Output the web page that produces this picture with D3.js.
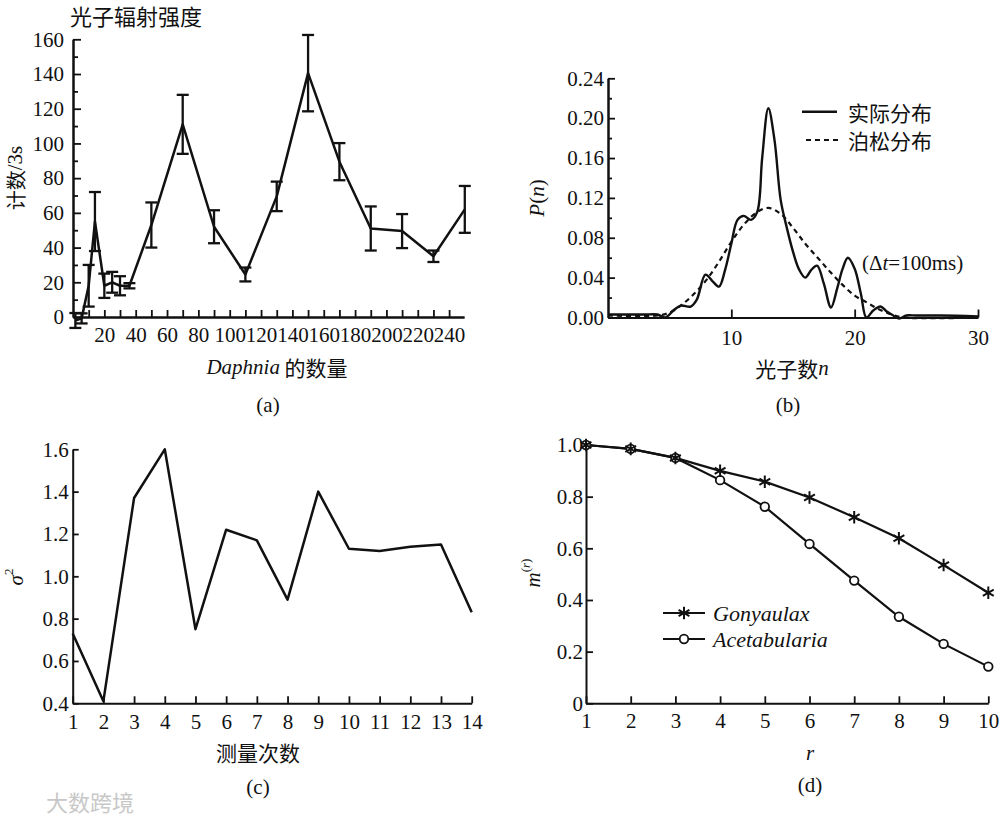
<!DOCTYPE html>
<html>
<head>
<meta charset="utf-8">
<script src="https://cdn.jsdelivr.net/npm/d3@7"></script>
<style>
body { margin: 0; background: #fff; }
</style>
</head>
<body>
<div id="chart"></div>
<script>

// (a) photon emission vs. number of Daphnia
var daphniaCount = [1.5, 5.5, 10, 14, 20, 25, 30, 36, 50, 70, 90, 110, 130, 150, 170, 190, 210, 230, 250];
var photonCounts = [-2, -0.8, 18, 55, 18, 20, 18, 18, 53, 111, 52, 24.5, 69.5, 140.5, 89.5, 51, 49.5, 35, 62];
var countErrors  = [4.3, 2.9, 12, 17, 7, 6, 5.5, 1.5, 13, 17, 9.5, 4, 8.5, 22, 10.7, 12.7, 9.8, 3.3, 13.5];
var countTicks   = [0, 20, 40, 60, 80, 100, 120, 140, 160];
var daphniaTicks = [20, 40, 60, 80, 100, 120, 140, 160, 180, 200, 220, 240];

// (b) photon count distribution
var nActual = [0, 1, 2, 3, 4, 4.65, 5.3, 5.9, 6.7, 7.2, 7.9, 8.5, 9.0, 9.5, 10.0, 10.5, 11.0, 11.6, 12.1, 12.5, 13.0, 13.5, 14.0, 14.5, 15.0, 15.5, 16.0, 16.5, 16.95, 17.5, 18.08, 18.6, 19.0, 19.45, 20.0, 20.5, 20.95, 21.5, 22.1, 22.6, 23.0, 23.6, 24.2, 25, 27, 30];
var pActual = [0.003, 0.003, 0.003, 0.003, 0.003, 0.000, 0.007, 0.012, 0.011, 0.018, 0.043, 0.036, 0.031, 0.048, 0.074, 0.098, 0.102, 0.098, 0.106, 0.160, 0.210, 0.178, 0.118, 0.090, 0.066, 0.048, 0.040, 0.048, 0.052, 0.034, 0.010, 0.030, 0.048, 0.060, 0.049, 0.024, 0.000, 0.007, 0.011, 0.006, 0.003, -0.001, 0.002, 0.002, 0.002, 0.001];
var nPoisson = [0, 4, 5, 6, 7, 8, 9, 10, 11, 12, 13, 14, 15, 16, 17, 18, 19, 20, 21, 22, 23, 24, 30];
var pPoisson = [0.002, 0.002, 0.005, 0.013, 0.024, 0.038, 0.056, 0.076, 0.093, 0.105, 0.110, 0.104, 0.090, 0.074, 0.060, 0.046, 0.033, 0.022, 0.015, 0.008, 0.003, 0.000, 0.000];
var pTicks = [0, 0.04, 0.08, 0.12, 0.16, 0.20, 0.24];
var nTicks = [10, 20, 30];

// (c) variance per measurement
var measureNo = [1, 2, 3, 4, 5, 6, 7, 8, 9, 10, 11, 12, 13, 14];
var sigma2 = [0.73, 0.41, 1.37, 1.60, 0.75, 1.22, 1.17, 0.89, 1.40, 1.13, 1.12, 1.14, 1.15, 0.83];
var sigmaTicks = [0.4, 0.6, 0.8, 1.0, 1.2, 1.4, 1.6];

// (d) m^(r)
var rValues = [1, 2, 3, 4, 5, 6, 7, 8, 9, 10];
var gonyaulax = [1.0, 0.985, 0.95, 0.90, 0.858, 0.797, 0.72, 0.639, 0.535, 0.428];
var acetabularia = [1.0, 0.985, 0.95, 0.864, 0.761, 0.617, 0.475, 0.335, 0.23, 0.142];
var mTicks = [0, 0.2, 0.4, 0.6, 0.8, 1.0];

var serif = "'Liberation Serif', 'DejaVu Serif', serif";
var cjk = "'Noto Sans CJK SC', 'Noto Sans CJK JP', sans-serif";
var ink = "#111";

var svg = d3.select("#chart").append("svg")
    .attr("width", 1000)
    .attr("height", 819)
    .style("background", "#fff");

function styleAxis(sel) {
    sel.attr("font-family", serif).attr("font-size", 21);
    sel.select(".domain").attr("stroke", ink).attr("stroke-width", 2);
    sel.selectAll(".tick line").attr("stroke", ink).attr("stroke-width", 1.8);
    sel.selectAll(".tick text").attr("fill", ink);
}

function label(x, y, txt, font, size, rotate) {
    var t = svg.append("text")
        .attr("text-anchor", "middle")
        .attr("dominant-baseline", "central")
        .attr("font-family", font)
        .attr("font-size", size)
        .attr("fill", ink);
    if (rotate) t.attr("transform", "translate(" + x + "," + y + ") rotate(-90)");
    else t.attr("x", x).attr("y", y);
    if (txt) t.text(txt);
    return t;
}

// ---------- (a) ----------
var xA = d3.scaleLinear().domain([0, 249.5]).range([73, 464]);
var yA = d3.scaleLinear().domain([0, 160]).range([317, 39.3]);

svg.append("g").attr("transform", "translate(0,317)")
    .call(d3.axisBottom(xA).tickValues(d3.range(10, 250, 20)).tickSize(-7).tickSizeOuter(0).tickFormat(""))
    .call(styleAxis);
svg.append("g").attr("transform", "translate(0,317)")
    .call(d3.axisBottom(xA).tickValues(daphniaTicks).tickSize(-7).tickSizeOuter(0).tickPadding(10))
    .call(styleAxis);
svg.append("g").attr("transform", "translate(73,0)")
    .call(d3.axisLeft(yA).tickValues(d3.range(10, 160, 20)).tickSize(-5).tickSizeOuter(0).tickFormat(""))
    .call(styleAxis);
svg.append("g").attr("transform", "translate(73,0)")
    .call(d3.axisLeft(yA).tickValues(countTicks).tickSize(-8).tickSizeOuter(0).tickPadding(9))
    .call(styleAxis);

var aData = daphniaCount.map(function(d, i) {
    return { x: d, y: photonCounts[i], e: countErrors[i] };
});

svg.append("path")
    .datum(aData)
    .attr("fill", "none")
    .attr("stroke", ink)
    .attr("stroke-width", 2.5)
    .attr("stroke-linejoin", "round")
    .attr("d", d3.line().x(function(d) { return xA(d.x); }).y(function(d) { return yA(d.y); }));

var bars = svg.append("g").selectAll("g").data(aData).enter().append("g")
    .attr("stroke", ink).attr("stroke-width", 2.3);
bars.append("line")
    .attr("x1", function(d) { return xA(d.x); }).attr("x2", function(d) { return xA(d.x); })
    .attr("y1", function(d) { return yA(d.y - d.e); }).attr("y2", function(d) { return yA(d.y + d.e); });
bars.append("line")
    .attr("x1", function(d) { return xA(d.x) - 6; }).attr("x2", function(d) { return xA(d.x) + 6; })
    .attr("y1", function(d) { return yA(d.y + d.e); }).attr("y2", function(d) { return yA(d.y + d.e); });
bars.append("line")
    .attr("x1", function(d) { return xA(d.x) - 6; }).attr("x2", function(d) { return xA(d.x) + 6; })
    .attr("y1", function(d) { return yA(d.y - d.e); }).attr("y2", function(d) { return yA(d.y - d.e); });

svg.append("text").attr("x", 70).attr("y", 15).attr("dominant-baseline", "central")
    .attr("font-family", cjk).attr("font-size", 22).attr("fill", ink).text("光子辐射强度");

var ya = label(15, 178, null, cjk, 20, true);
ya.append("tspan").text("计数");
ya.append("tspan").attr("font-family", serif).attr("font-size", 21).text("/3s");

var xa = label(277, 367, null, serif, 21, false);
xa.append("tspan").attr("font-style", "italic").text("Daphnia");
xa.append("tspan").attr("font-family", cjk).text(" 的数量");

label(268, 405, "(a)", serif, 21, false);

// ---------- (b) ----------
var xB = d3.scaleLinear().domain([0, 30]).range([608, 978]);
var yB = d3.scaleLinear().domain([0, 0.24]).range([317.5, 78.3]);

svg.append("g").attr("transform", "translate(0,317.5)")
    .call(d3.axisBottom(xB).tickValues(nTicks).tickSize(-8).tickSizeOuter(0).tickPadding(13))
    .call(styleAxis);
svg.append("g").attr("transform", "translate(608,0)")
    .call(d3.axisLeft(yB).tickValues(d3.range(0.02, 0.24, 0.04)).tickSize(-4).tickSizeOuter(0).tickFormat(""))
    .call(styleAxis);
svg.append("g").attr("transform", "translate(608,0)")
    .call(d3.axisLeft(yB).tickValues(pTicks).tickSize(-7).tickSizeOuter(0).tickPadding(4).tickFormat(d3.format(".2f")))
    .call(styleAxis);

var lineB = d3.line()
    .x(function(d) { return xB(d[0]); })
    .y(function(d) { return yB(d[1]); })
    .curve(d3.curveCatmullRom.alpha(0.5));

svg.append("path")
    .datum(nPoisson.map(function(d, i) { return [d, pPoisson[i]]; }))
    .attr("fill", "none").attr("stroke", ink).attr("stroke-width", 2.2)
    .attr("stroke-dasharray", "5,4")
    .attr("d", lineB);
svg.append("path")
    .datum(nActual.map(function(d, i) { return [d, pActual[i]]; }))
    .attr("fill", "none").attr("stroke", ink).attr("stroke-width", 2.4)
    .attr("d", lineB);

svg.append("line").attr("x1", 802).attr("x2", 837).attr("y1", 111.7).attr("y2", 111.7)
    .attr("stroke", ink).attr("stroke-width", 2.4);
svg.append("line").attr("x1", 806).attr("x2", 842).attr("y1", 140).attr("y2", 140)
    .attr("stroke", ink).attr("stroke-width", 2.2).attr("stroke-dasharray", "5,4");
svg.append("text").attr("x", 848).attr("y", 111.7).attr("dominant-baseline", "central")
    .attr("font-family", cjk).attr("font-size", 21).attr("fill", ink).text("实际分布");
svg.append("text").attr("x", 848).attr("y", 140).attr("dominant-baseline", "central")
    .attr("font-family", cjk).attr("font-size", 21).attr("fill", ink).text("泊松分布");

var dt = svg.append("text").attr("x", 862).attr("y", 263).attr("dominant-baseline", "central")
    .attr("font-family", serif).attr("font-size", 21).attr("fill", ink);
dt.append("tspan").text("(Δ");
dt.append("tspan").attr("font-style", "italic").text("t");
dt.append("tspan").text("=100ms)");

var yb = label(537, 198, null, serif, 21, true);
yb.append("tspan").attr("font-style", "italic").text("P");
yb.append("tspan").text("(");
yb.append("tspan").attr("font-style", "italic").text("n");
yb.append("tspan").text(")");

var xb = label(792, 368, null, cjk, 21, false);
xb.append("tspan").text("光子数");
xb.append("tspan").attr("font-family", serif).attr("font-style", "italic").text("n");

label(788, 405, "(b)", serif, 21, false);

// ---------- (c) ----------
var xC = d3.scaleLinear().domain([1, 14]).range([72.7, 471.7]);
var yC = d3.scaleLinear().domain([0.4, 1.6]).range([703.3, 449.3]);

svg.append("g").attr("transform", "translate(0,703.3)")
    .call(d3.axisBottom(xC).tickValues(measureNo).tickSize(-7).tickSizeOuter(0).tickPadding(11))
    .call(styleAxis);
svg.append("g").attr("transform", "translate(72.7,0)")
    .call(d3.axisLeft(yC).tickValues(sigmaTicks).tickSize(-6).tickSizeOuter(0).tickPadding(4).tickFormat(d3.format(".1f")))
    .call(styleAxis);

svg.append("path")
    .datum(measureNo.map(function(d, i) { return [d, sigma2[i]]; }))
    .attr("fill", "none").attr("stroke", ink).attr("stroke-width", 2.5)
    .attr("stroke-linejoin", "round")
    .attr("d", d3.line().x(function(d) { return xC(d[0]); }).y(function(d) { return yC(d[1]); }));

var yc = label(16, 577, null, serif, 21, true);
yc.append("tspan").attr("font-style", "italic").text("σ");
yc.append("tspan").attr("font-size", 13).attr("dy", -8).text("2");

label(258, 752, "测量次数", cjk, 21, false);
label(258, 787, "(c)", serif, 21, false);

// ---------- (d) ----------
var xD = d3.scaleLinear().domain([1, 10]).range([586, 988.3]);
var yD = d3.scaleLinear().domain([0, 1]).range([703.3, 445]);

svg.append("g").attr("transform", "translate(0,703.3)")
    .call(d3.axisBottom(xD).tickValues(rValues).tickSize(-7).tickSizeOuter(0).tickPadding(10))
    .call(styleAxis);
svg.append("g").attr("transform", "translate(586,0)")
    .call(d3.axisLeft(yD).tickValues(mTicks).tickSize(-7).tickSizeOuter(0).tickPadding(3)
        .tickFormat(function(d) { return d === 0 ? "0" : d3.format(".1f")(d); }))
    .call(styleAxis);

var lineD = d3.line().x(function(d) { return xD(d[0]); }).y(function(d) { return yD(d[1]); });
var gData = rValues.map(function(d, i) { return [d, gonyaulax[i]]; });
var aceData = rValues.map(function(d, i) { return [d, acetabularia[i]]; });

svg.append("path").datum(aceData).attr("fill", "none").attr("stroke", ink).attr("stroke-width", 2.2).attr("d", lineD);
svg.append("path").datum(gData).attr("fill", "none").attr("stroke", ink).attr("stroke-width", 2.2).attr("d", lineD);

var star = d3.symbol().type(d3.symbolAsterisk).size(110);

svg.append("g").selectAll("circle").data(aceData).enter().append("circle")
    .attr("cx", function(d) { return xD(d[0]); })
    .attr("cy", function(d) { return yD(d[1]); })
    .attr("r", 4.3)
    .attr("fill", "#fff").attr("stroke", ink).attr("stroke-width", 1.8);
svg.append("g").selectAll("path").data(gData).enter().append("path")
    .attr("transform", function(d) { return "translate(" + xD(d[0]) + "," + yD(d[1]) + ")"; })
    .attr("d", star)
    .attr("fill", "none").attr("stroke", ink).attr("stroke-width", 2);

// legend (d)
svg.append("line").attr("x1", 663).attr("x2", 705).attr("y1", 613).attr("y2", 613).attr("stroke", ink).attr("stroke-width", 2.2);
svg.append("path").attr("transform", "translate(684,613)").attr("d", star)
    .attr("fill", "none").attr("stroke", ink).attr("stroke-width", 2);
svg.append("line").attr("x1", 663).attr("x2", 705).attr("y1", 639).attr("y2", 639).attr("stroke", ink).attr("stroke-width", 2.2);
svg.append("circle").attr("cx", 684).attr("cy", 639).attr("r", 4.3)
    .attr("fill", "#fff").attr("stroke", ink).attr("stroke-width", 1.8);
svg.append("text").attr("x", 713).attr("y", 613).attr("dominant-baseline", "central")
    .attr("font-family", serif).attr("font-style", "italic").attr("font-size", 22).attr("fill", ink).text("Gonyaulax");
svg.append("text").attr("x", 713).attr("y", 639).attr("dominant-baseline", "central")
    .attr("font-family", serif).attr("font-style", "italic").attr("font-size", 22).attr("fill", ink).text("Acetabularia");

var yd = label(533, 573, null, serif, 21, true);
yd.append("tspan").attr("font-style", "italic").text("m");
yd.append("tspan").attr("font-size", 13).attr("dy", -8).text("(");
yd.append("tspan").attr("font-size", 13).attr("font-style", "italic").text("r");
yd.append("tspan").attr("font-size", 13).text(")");

label(810, 753, "r", serif, 21, false).attr("font-style", "italic");
label(810, 785, "(d)", serif, 21, false);

// watermark
svg.append("text").attr("x", 46).attr("y", 801).attr("dominant-baseline", "central")
    .attr("font-family", cjk).attr("font-size", 22).attr("fill", "#c8c8c8").text("大数跨境");

</script>
</body>
</html>
